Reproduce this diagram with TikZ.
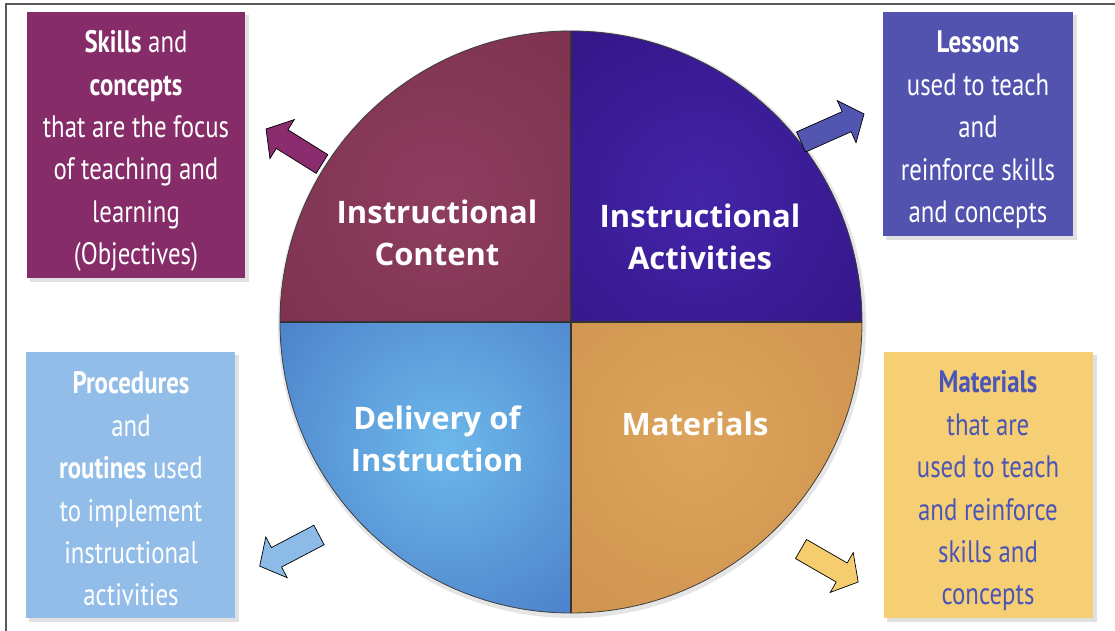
\documentclass[tikz,border=0pt]{standalone}
\usepackage{fontspec}
\newfontfamily\boxfont[FakeStretch=0.8]{PT Sans}
\newfontfamily\circfont{Open Sans}
\usetikzlibrary{calc}
\definecolor{boxA}{HTML}{862D69}
\definecolor{boxB}{HTML}{5153AE}
\definecolor{boxC}{HTML}{92BDE8}
\definecolor{boxD}{HTML}{F6CE73}
\definecolor{txtD}{HTML}{4B55B5}
\definecolor{arrA}{HTML}{8B2C6E}
\definecolor{arrB}{HTML}{5356B0}
\definecolor{arrC}{HTML}{8DBBE8}
\definecolor{arrD}{HTML}{F5CC6E}
\definecolor{qAo}{HTML}{7F3351}
\definecolor{qAi}{HTML}{8E3D5E}
\definecolor{qBo}{HTML}{35178A}
\definecolor{qBi}{HTML}{4324A8}
\definecolor{qCo}{HTML}{4E84CC}
\definecolor{qCi}{HTML}{6DB8EA}
\definecolor{qDo}{HTML}{D09550}
\definecolor{qDi}{HTML}{DCA45C}
\tikzset{
  infobox/.style={inner sep=0pt, align=center, minimum width=#1, font=\boxfont\fontsize{31}{42.4}\selectfont},
  boxshadow/.style={fill=black, opacity=0.12},
  circtext/.style={align=center, text=white, font=\circfont\bfseries\fontsize{31}{42}\selectfont},
  arrowline/.style={draw=black, line width=0.7pt, line join=miter},
  frameline/.style={draw=black!65, line width=1.3pt},
  divider/.style={draw=black!80, line width=1.4pt}
}
\newcommand{\blockarrow}[5]{%
  \begin{scope}[shift={#2}, rotate=#3]
    \coordinate (#1) at (0,0);
    \path[arrowline, fill=#5] (0,-11) -- ({#4-19},-11) -- ({#4-19},-23) -- (#4,0) -- ({#4-19},23) -- ({#4-19},11) -- (0,11) -- cycle;
  \end{scope}}
\begin{document}
\begin{tikzpicture}[x=1pt,y=-1pt]
\useasboundingbox (0,0) rectangle (1115,631);
\fill[white] (0,0) rectangle (1115,631);
\draw[frameline] (6,640) -- (6,4) -- (1125,4);

% circle
\coordinate (O) at (571,322);
\fill[black!10] (572,324) circle[radius=294];
\begin{scope}
  \clip (O) -- ++(-291,0) arc[start angle=180, end angle=270, radius=291] -- cycle;
  \fill[qAo] (O) circle[radius=300];
  \shade[inner color=qAi, outer color=qAo] (440,200) circle[radius=200];
\end{scope}
\begin{scope}
  \clip (O) -- ++(0,-291) arc[start angle=270, end angle=360, radius=291] -- cycle;
  \fill[qBo] (O) circle[radius=300];
  \shade[inner color=qBi, outer color=qBo] (700,200) circle[radius=200];
\end{scope}
\begin{scope}
  \clip (O) -- ++(0,291) arc[start angle=90, end angle=180, radius=291] -- cycle;
  \fill[qCo] (O) circle[radius=300];
  \shade[inner color=qCi, outer color=qCo] (445,445) circle[radius=200];
\end{scope}
\begin{scope}
  \clip (O) -- ++(291,0) arc[start angle=0, end angle=90, radius=291] -- cycle;
  \fill[qDo] (O) circle[radius=300];
  \shade[inner color=qDi, outer color=qDo] (695,440) circle[radius=200];
\end{scope}
\draw[black!75, line width=0.8pt] (O) circle[radius=291];
\coordinate (cT) at (571,31);
\coordinate (cB) at (571,613);
\coordinate (cL) at (280,322);
\coordinate (cR) at (862,322);
\draw[divider] (cT) -- (cB);
\draw[divider] (cL) -- (cR);

\node[circtext] (tA) at (437,233) {Instructional\\Content};
\node[circtext] (tB) at (700,237) {Instructional\\Activities};
\node[circtext] (tC) at (437,439) {Delivery of\\Instruction};
\node[circtext] (tD) at (695,424) {Materials};

% boxes
\fill[boxshadow] (30,15) rectangle (249,282);
\fill[boxshadow] (886,15) rectangle (1077,240);
\fill[boxshadow] (29,355) rectangle (239,622);
\fill[boxshadow] (887,355) rectangle (1097,622);
\fill[boxA] (27,12) rectangle (245,278);
\fill[boxB] (883,12) rectangle (1073,236);
\fill[boxC] (26,352) rectangle (235,618);
\fill[boxD] (884,352) rectangle (1093,618);

\node[infobox=218pt, text=white] (bA) at (136,151)
  {\textbf{Skills} and\\\textbf{concepts}\\that are the focus\\of teaching and\\learning\\(Objectives)};
\node[infobox=190pt, text=white] (bB) at (978,130)
  {\textbf{Lessons}\\used to teach\\and\\reinforce skills\\and concepts};
\node[infobox=209pt, text=white] (bC) at (131,489)
  {\textbf{Procedures}\\and\\\textbf{routines} used\\to implement\\instructional\\activities};
\node[infobox=209pt, text=txtD] (bD) at (988,491)
  {\textbf{Materials}\\that are\\used to teach\\and reinforce\\skills and\\concepts};

% arrows
\blockarrow{aA}{(322,164)}{148}{66}{arrA}
\blockarrow{aB}{(801,142)}{24}{69}{arrB}
\blockarrow{aC}{(319,535)}{207.7}{67}{arrC}
\blockarrow{aD}{(801,549)}{-30}{66}{arrD}
\end{tikzpicture}
\end{document}
